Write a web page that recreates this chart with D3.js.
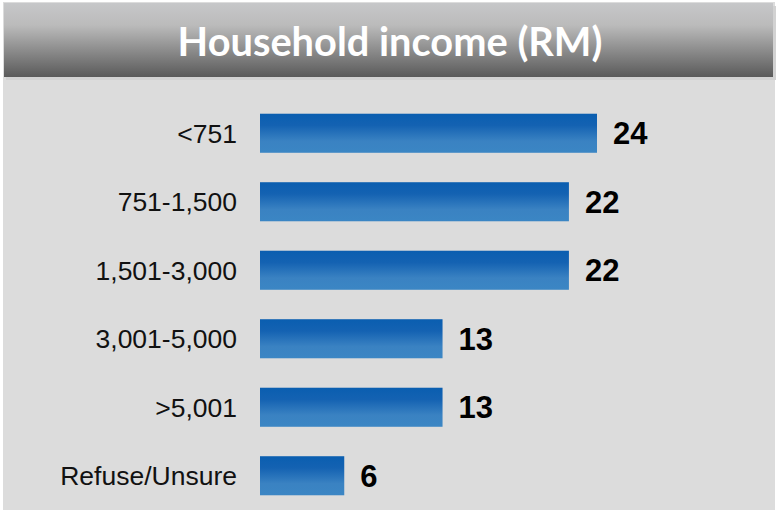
<!DOCTYPE html>
<html>
<head>
  <meta charset="utf-8">
  <title>Household income (RM)</title>
  <script src="https://cdn.jsdelivr.net/npm/d3@7"></script>
  <style>
    body { margin: 0; background: #ffffff; }
    svg { display: block; }
  </style>
</head>
<body>
  <script>
    // data
    const categories = ["<751", "751-1,500", "1,501-3,000", "3,001-5,000", ">5,001", "Refuse/Unsure"];
    const values = [24, 22, 22, 13, 13, 6];
    const title = "Household income (RM)";

    const w = 779;
    const h = 512;

    const svg = d3.select("body")
      .append("svg")
      .attr("width", w)
      .attr("height", h);

    const defs = svg.append("defs");

    // title gradient
    const tg = defs.append("linearGradient")
      .attr("id", "titleGrad")
      .attr("x1", 0).attr("y1", 0).attr("x2", 0).attr("y2", 1);
    tg.append("stop").attr("offset", "0%").attr("stop-color", "#c6c7c9");
    tg.append("stop").attr("offset", "30%").attr("stop-color", "#bbbbbb");
    tg.append("stop").attr("offset", "100%").attr("stop-color", "#5a5a5a");

    // bar gradient
    const bg = defs.append("linearGradient")
      .attr("id", "barGrad")
      .attr("x1", 0).attr("y1", 0).attr("x2", 0).attr("y2", 1);
    bg.append("stop").attr("offset", "0%").attr("stop-color", "#0a5eb0");
    bg.append("stop").attr("offset", "30%").attr("stop-color", "#1462b2");
    bg.append("stop").attr("offset", "70%").attr("stop-color", "#3a82c2");
    bg.append("stop").attr("offset", "100%").attr("stop-color", "#3b86c4");

    // panel background
    svg.append("rect")
      .attr("x", 3).attr("y", 2)
      .attr("width", 772).attr("height", 508)
      .attr("fill", "#dcdcdc");

    // title box shadow + box
    svg.append("rect")
      .attr("x", 6).attr("y", 6)
      .attr("width", 770).attr("height", 74)
      .attr("fill", "#d2d2d2");
    svg.append("rect")
      .attr("x", 4).attr("y", 3)
      .attr("width", 769).attr("height", 74)
      .attr("fill", "url(#titleGrad)");

    const titleText = svg.append("text")
      .attr("x", 390)
      .attr("y", 56)
      .attr("text-anchor", "middle")
      .attr("font-family", "Lato, 'Open Sans', sans-serif")
      .attr("font-weight", "bold")
      .attr("font-size", 36)
      .attr("fill", "#ffffff")
      .text(title);
    // fit the title to the width seen in the picture
    const tl = titleText.node().getComputedTextLength();
    titleText.attr("font-size", 36 * 425 / tl);

    // scales
    const xScale = d3.scaleLinear()
      .domain([0, 24])
      .range([260, 597]);

    const yScale = d3.scaleBand()
      .domain(categories)
      .range([99, 510])
      .paddingInner(0.43)
      .paddingOuter(0.215);

    // bars
    svg.selectAll("rect.bar")
      .data(values)
      .enter()
      .append("rect")
      .attr("class", "bar")
      .attr("x", xScale(0))
      .attr("y", function (d, i) { return yScale(categories[i]); })
      .attr("width", function (d) { return xScale(d) - xScale(0); })
      .attr("height", yScale.bandwidth())
      .attr("fill", "url(#barGrad)");

    // category labels
    svg.selectAll("text.cat")
      .data(categories)
      .enter()
      .append("text")
      .attr("class", "cat")
      .attr("x", 237)
      .attr("y", function (d) { return yScale(d) + yScale.bandwidth() / 2; })
      .attr("dy", "0.35em")
      .attr("text-anchor", "end")
      .attr("font-family", "'Liberation Sans', Arial, sans-serif")
      .attr("font-size", 26.5)
      .attr("fill", "#111111")
      .text(function (d) { return d; });

    // value labels
    svg.selectAll("text.val")
      .data(values)
      .enter()
      .append("text")
      .attr("class", "val")
      .attr("x", function (d) { return xScale(d) + 16; })
      .attr("y", function (d, i) { return yScale(categories[i]) + yScale.bandwidth() / 2; })
      .attr("dy", "0.36em")
      .attr("font-family", "'Liberation Sans', Arial, sans-serif")
      .attr("font-weight", "bold")
      .attr("font-size", 31)
      .attr("fill", "#000000")
      .text(function (d) { return d; });
  </script>
</body>
</html>
